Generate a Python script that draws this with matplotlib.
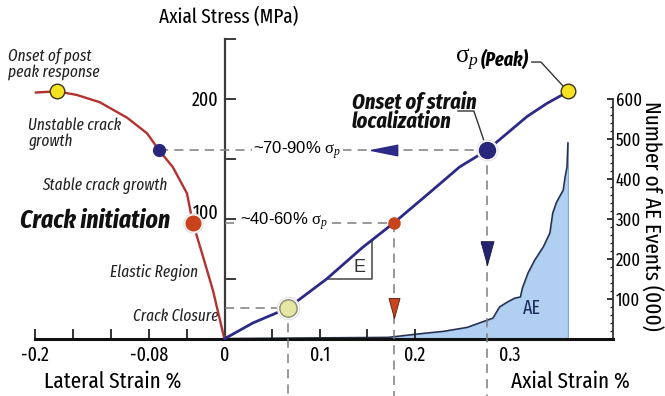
import numpy as np
import matplotlib
matplotlib.use('Agg')
import matplotlib.pyplot as plt
from matplotlib.path import Path
from matplotlib.transforms import ScaledTranslation

# axial stress-strain curve (strain %, stress MPa)
axial_strain = [0.0, 0.0295, 0.0663, 0.107, 0.145, 0.178, 0.219, 0.247, 0.276,
                0.297, 0.318, 0.339, 0.355, 0.361]
axial_stress = [0, 13, 25.4, 49.6, 76, 96.5, 124, 143, 157, 171, 185, 196, 203, 206]

# lateral stress-strain curve, runs on past the peak
lateral_strain = [0.0, -0.001, -0.0126, -0.023, -0.034, -0.040, -0.055, -0.0695,
                  -0.082, -0.103, -0.132, -0.156, -0.177, -0.199]
lateral_stress = [0, 1, 40, 68, 97, 121, 143, 157, 171, 184, 197, 203, 206, 205]

# cumulative acoustic emission events (thousands)
ae_strain = [0.0, 0.172, 0.205, 0.23, 0.255, 0.276, 0.282, 0.289, 0.297, 0.305,
             0.311, 0.313, 0.319, 0.326, 0.335, 0.342, 0.345, 0.349, 0.356,
             0.358, 0.360, 0.361]
ae_events = [0, 3, 12, 18, 28, 46, 51, 79, 91, 101, 104, 126, 164, 196, 229,
             264, 314, 341, 371, 404, 429, 489]

# stress thresholds (MPa)
closure_stress = 25.4
initiation_stress = 96.5
localization_stress = 157
peak_stress = 206

x_ticks = [-0.2, -0.16, -0.12, -0.08, -0.04, 0, 0.05, 0.1, 0.15, 0.2, 0.3]
x_labels = ['-0.2', '', '', '-0.08', '', '0', '', '0.1', '', '0.2', '0.3']
stress_ticks = [50, 100, 150, 200, 250]
stress_labels = ['', '100', '', '200', '']
ae_ticks = [100, 200, 300, 400, 500, 600]

NAVY = '#2c2a86'
RED = '#b3312e'
DOT_RED = '#c8421c'
YELLOW = '#f4e31e'
GREY = '#7d7d7d'

plt.rcParams['font.family'] = ['Fira Sans Extra Condensed', 'DejaVu Sans']
plt.rcParams['mathtext.fontset'] = 'custom'
plt.rcParams['mathtext.rm'] = 'Liberation Serif'
plt.rcParams['mathtext.it'] = 'Liberation Serif:italic'

fig = plt.figure(figsize=(6.65, 3.96), dpi=100)
ax = fig.add_axes([0, 0, 1, 1])
ax.set_xlim(-0.2368, 0.4632)
ax.set_ylim(-47.9, 282.1)
ax2 = ax.twinx()
ax2.set_ylim(-47.9 * 3, 282.1 * 3)
ax.set_zorder(2)
ax.patch.set_visible(False)

# axes lines
x_right = 0.4084
ax.spines[['top', 'right']].set_visible(False)
ax.spines['left'].set_position(('data', 0))
ax.spines['left'].set_bounds(0, 250)
ax.spines['left'].set_color('#3a3a3a')
ax.spines['left'].set_linewidth(1.6)
ax.spines['bottom'].set_position(('data', 0))
ax.spines['bottom'].set_bounds(-0.2, x_right)
ax.spines['bottom'].set_color('#111111')
ax.spines['bottom'].set_linewidth(2.2)

ax.set_yticks(stress_ticks, stress_labels)
ax.tick_params(axis='y', direction='in', length=8, width=1.4, pad=5,
               labelsize=14, color='#3a3a3a')
# lift the 100 label clear of the crack initiation dot
lab100 = ax.get_yticklabels()[1]
lab100.set_transform(lab100.get_transform() + ScaledTranslation(0, 5 / 72, fig.dpi_scale_trans))
ax.set_xticks(x_ticks, x_labels)
ax.tick_params(axis='x', direction='in', length=7, width=1.3, pad=5,
               labelsize=14, color='#222222')
for t in ax.xaxis.get_major_ticks():
    if t.get_loc() in (0, 0.3):
        t.tick1line.set_visible(False)

ax2.spines[['top', 'left', 'bottom']].set_visible(False)
ax2.spines['right'].set_position(('data', x_right))
ax2.spines['right'].set_bounds(0, 600)
ax2.spines['right'].set_linewidth(1.3)
ax2.spines['right'].set_color('#333333')
ax2.set_yticks(ae_ticks)
ax2.set_yticks([v for v in range(20, 600, 20) if v % 100], minor=True)
ax2.tick_params(axis='y', which='major', direction='in', length=4, width=1.1,
                pad=2, labelsize=13)
ax2.tick_params(axis='y', which='minor', direction='in', length=2.5, width=0.9)

# acoustic emission
ax2.fill_between(ae_strain + [ae_strain[-1]], ae_events + [0], color='#b0cff1',
                 edgecolor='#7aa6dc', lw=0.8)
ax2.plot(ae_strain, ae_events, color='#26304c', lw=1.1)
ax2.text(0.323, 76, 'AE', fontsize=14, color='#1d2c5a', ha='center', va='center')

# stress-strain curves
ax.plot(lateral_strain, lateral_stress, color=RED, lw=1.7, zorder=4)
ax.plot(axial_strain, axial_stress, color=NAVY, lw=2.0, zorder=4)


def ax_x(s):
    return np.interp(s, axial_stress, axial_strain)


def lat_x(s):
    return np.interp(s, lateral_stress[:13], lateral_strain[:13])


y_bottom = ax.get_ylim()[0]
dash = dict(color=GREY, lw=1.1, dashes=(6, 4), zorder=3)
cx, ix, lx = ax_x(closure_stress), ax_x(initiation_stress), ax_x(localization_stress)
ax.plot([0, cx], [closure_stress] * 2, **dash)
ax.plot([cx, cx], [closure_stress, y_bottom], **dash)
ax.plot([0, ix], [initiation_stress] * 2, **dash)
ax.plot([ix, ix], [initiation_stress, y_bottom], **dash)
ax.plot([lat_x(localization_stress), lx], [localization_stress] * 2, **dash)
ax.plot([lx, lx], [localization_stress, y_bottom], **dash)

# arrow heads on the guide lines
left_head = Path([(-1, 0), (1, 0.4), (1, -0.4), (-1, 0)])
down_head = Path([(-0.55, 1), (0.55, 1), (0, -1), (-0.55, 1)])
ax.plot(0.167, localization_stress, marker=left_head, ms=19, color=NAVY, zorder=5)
ax.plot(ix, 25.4, marker=down_head, ms=14.5, mfc=DOT_RED, mec='#5a1a10',
        mew=0.6, zorder=5)
ax.plot(lx, 71, marker=down_head, ms=17, mfc='#25236f', mec='#15143f',
        mew=0.6, zorder=5)

# slope triangle
e_x = 0.1547
ax.plot([ax_x(49.6), e_x, e_x], [49.6, 49.6, np.interp(e_x, axial_strain, axial_stress)],
        color='#444444', lw=1.1, zorder=3)
ax.text(0.142, 59, 'E', fontsize=13, family='Liberation Sans',
        ha='center', va='center', color='#333333')

# key points
halo = dict(marker='o', mfc='white', mec='#e2e2e2', mew=0.8, zorder=5)
ax.plot(cx, closure_stress, ms=16, **halo)
ax.plot(cx, closure_stress, 'o', ms=12.5, mfc='#e5e6a2', mec='#8a8a70', mew=1, zorder=6)
ax.plot(ix, initiation_stress, 'o', ms=8, color=DOT_RED, zorder=6)
ax.plot(lat_x(initiation_stress), initiation_stress, ms=14, **halo)
ax.plot(lat_x(initiation_stress), initiation_stress, 'o', ms=10.5, color=DOT_RED, zorder=6)
ax.plot(lx, localization_stress, ms=15, **halo)
ax.plot(lx, localization_stress, 'o', ms=11.5, color='#28267c', zorder=6)
ax.plot(lat_x(localization_stress), localization_stress, 'o', ms=8.5,
        color='#28267c', zorder=6)
px = ax_x(peak_stress)
ax.plot(px, peak_stress, 'o', ms=10.5, mfc=YELLOW, mec='#3b3520', mew=1, zorder=6)
ax.plot(lat_x(peak_stress), peak_stress, 'o', ms=10.5, mfc=YELLOW, mec='#3b3520',
        mew=1, zorder=6)

# leader lines
ax.plot([0.2453, 0.262, lx], [189.6, 189.6, localization_stress], color='#333333',
        lw=1, zorder=4)
ax.plot([0.323, 0.3326, px], [230.4, 230.4, peak_stress], color='#333333',
        lw=1, zorder=4)

# annotations
note = dict(fontsize=12, style='italic', color='#222222', va='center')
ax.text(-0.2284, 229, 'Onset of post\npeak response', linespacing=1.0, **note)
ax.text(-0.207, 171, 'Unstable crack\ngrowth', linespacing=1.0, **note)
ax.text(-0.1926, 127, 'Stable crack growth', **note)
ax.text(-0.121, 55.4, 'Elastic Region', **note)
ax.text(-0.0968, 18.75, 'Crack Closure', **note)
ax.text(-0.2158, 98, 'Crack initiation', fontsize=18.5, style='italic',
        weight='bold', color='#111111', va='center')
ax.text(0.1337, 189, 'Onset of strain\nlocalization', fontsize=16, style='italic',
        weight='bold', color='#111111', va='center', linespacing=0.9)
ax.text(0.267, 232, r'$\mathrm{σ}_{p}$', fontsize=18, ha='right', va='center')
ax.text(0.2695, 232, '(Peak)', fontsize=14, style='italic', weight='bold',
        va='center')

box = dict(facecolor='white', edgecolor='none', pad=1)
ax.text(0.0295, 157, r'~70-90% $\mathrm{σ}_{p}$', fontsize=12, family='Liberation Sans',
        va='center', bbox=box, zorder=4)
ax.text(0.0158, 98, r'~40-60% $\mathrm{σ}_{p}$', fontsize=12, family='Liberation Sans',
        va='center', bbox=box, zorder=4)

# axis titles
ax.text(0.004, 268, 'Axial Stress (MPa)', fontsize=15, ha='center', va='center')
ax.text(-0.118, -36, 'Lateral Strain %', fontsize=16.5, ha='center', va='center')
ax.text(0.364, -36, 'Axial Strain %', fontsize=16.5, ha='center', va='center')
ax.text(0.4484, 102, 'Number of AE Events (000)', fontsize=16.5, rotation=-90,
        ha='center', va='center')

fig.savefig('out.png', dpi=100)
